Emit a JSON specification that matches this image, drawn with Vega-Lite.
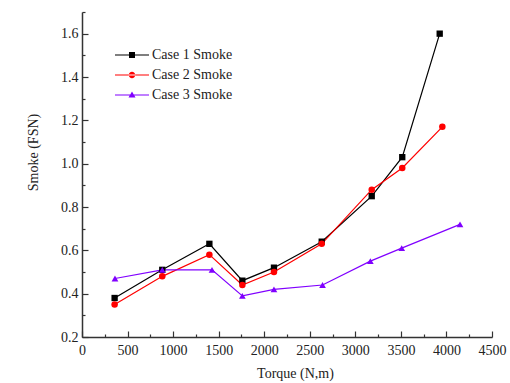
{
  "$schema": "https://vega.github.io/schema/vega-lite/v6.json",
  "width": 410,
  "height": 325,
  "autosize": "none",
  "padding": {"left": 82, "top": 12, "right": 18, "bottom": 46},
  "background": "white",
  "config": {
    "view": {"stroke": null},
    "font": "Liberation Serif",
    "axis": {
      "domainColor": "#333333",
      "domainWidth": 1.5,
      "tickColor": "#333333",
      "tickWidth": 1.2,
      "grid": false,
      "labelFont": "Liberation Serif",
      "labelFontSize": 14,
      "labelColor": "#222222",
      "titleFont": "Liberation Serif",
      "titleFontSize": 14,
      "titleFontWeight": "normal",
      "titleColor": "#222222"
    },
    "legend": {"labelFont": "Liberation Serif"}
  },
  "data": {
    "values": [
      {"series": "Case 1 Smoke", "torque": 358, "smoke": 0.38},
      {"series": "Case 1 Smoke", "torque": 881, "smoke": 0.51},
      {"series": "Case 1 Smoke", "torque": 1398, "smoke": 0.63},
      {"series": "Case 1 Smoke", "torque": 1760, "smoke": 0.46},
      {"series": "Case 1 Smoke", "torque": 2107, "smoke": 0.52},
      {"series": "Case 1 Smoke", "torque": 2631, "smoke": 0.64},
      {"series": "Case 1 Smoke", "torque": 3180, "smoke": 0.85},
      {"series": "Case 1 Smoke", "torque": 3515, "smoke": 1.03},
      {"series": "Case 1 Smoke", "torque": 3926, "smoke": 1.60},
      {"series": "Case 2 Smoke", "torque": 358, "smoke": 0.35},
      {"series": "Case 2 Smoke", "torque": 881, "smoke": 0.48},
      {"series": "Case 2 Smoke", "torque": 1398, "smoke": 0.58},
      {"series": "Case 2 Smoke", "torque": 1760, "smoke": 0.44},
      {"series": "Case 2 Smoke", "torque": 2107, "smoke": 0.50},
      {"series": "Case 2 Smoke", "torque": 2631, "smoke": 0.63},
      {"series": "Case 2 Smoke", "torque": 3180, "smoke": 0.88},
      {"series": "Case 2 Smoke", "torque": 3515, "smoke": 0.98},
      {"series": "Case 2 Smoke", "torque": 3955, "smoke": 1.17},
      {"series": "Case 3 Smoke", "torque": 362, "smoke": 0.47},
      {"series": "Case 3 Smoke", "torque": 881, "smoke": 0.51},
      {"series": "Case 3 Smoke", "torque": 1427, "smoke": 0.51},
      {"series": "Case 3 Smoke", "torque": 1760, "smoke": 0.39},
      {"series": "Case 3 Smoke", "torque": 2107, "smoke": 0.42},
      {"series": "Case 3 Smoke", "torque": 2640, "smoke": 0.44},
      {"series": "Case 3 Smoke", "torque": 3165, "smoke": 0.55},
      {"series": "Case 3 Smoke", "torque": 3509, "smoke": 0.61},
      {"series": "Case 3 Smoke", "torque": 4149, "smoke": 0.72}
    ]
  },
  "encoding": {
    "x": {
      "field": "torque", "type": "quantitative",
      "scale": {"domain": [0, 4500], "nice": false, "zero": false},
      "axis": {
        "title": "Torque (N,m)",
        "values": [0, 250, 500, 750, 1000, 1250, 1500, 1750, 2000, 2250, 2500, 2750, 3000, 3250, 3500, 3750, 4000, 4250, 4500],
        "format": "d",
        "labelFont": "Liberation Serif",
        "labelExpr": "datum.value % 500 === 0 ? datum.label : ''",
        "tickSize": {"condition": {"test": "datum.value % 500 === 0", "value": -6}, "value": -3},
        "labelPadding": 12,
        "titlePadding": 9,
        "titleX": 213,
        "labelFlush": false
      }
    },
    "y": {
      "field": "smoke", "type": "quantitative",
      "scale": {"domain": [0.2, 1.7], "nice": false, "zero": false},
      "axis": {
        "title": "Smoke (FSN)",
        "values": [0.2, 0.3, 0.4, 0.5, 0.6, 0.7, 0.8, 0.9, 1.0, 1.1, 1.2, 1.3, 1.4, 1.5, 1.6, 1.7],
        "format": ".1f",
        "labelFont": "Liberation Serif",
        "labelExpr": "round(datum.value * 10) % 2 === 0 ? datum.label : ''",
        "tickSize": {"condition": {"test": "round(datum.value * 10) % 2 === 0", "value": -6}, "value": -3},
        "labelPadding": 10,
        "titlePadding": 20,
        "titleY": 140,
        "labelFlush": false
      }
    }
  },
  "layer": [
    {
      "mark": {"type": "line", "strokeWidth": 1.2},
      "encoding": {
        "color": {
          "field": "series", "type": "nominal",
          "scale": {"domain": ["Case 1 Smoke", "Case 2 Smoke", "Case 3 Smoke"], "range": ["#000000", "#ff0000", "#8000ff"]},
          "legend": null
        }
      }
    },
    {
      "mark": {"type": "point", "filled": true, "opacity": 1},
      "encoding": {
        "color": {"field": "series", "type": "nominal", "legend": null},
        "shape": {
          "field": "series", "type": "nominal",
          "scale": {"domain": ["Case 1 Smoke", "Case 2 Smoke", "Case 3 Smoke"], "range": ["square", "circle", "triangle-up"]},
          "legend": null
        },
        "size": {
          "field": "series", "type": "nominal",
          "scale": {"domain": ["Case 1 Smoke", "Case 2 Smoke", "Case 3 Smoke"], "range": [40, 45, 50]},
          "legend": null
        }
      }
    },
    {
      "transform": [{"filter": "datum.smoke < 0"}],
      "mark": {"type": "point", "filled": true, "opacity": 1, "size": 100},
      "encoding": {
        "fill": {
          "field": "series", "type": "nominal",
          "scale": {"domain": ["Case 1 Smoke", "Case 2 Smoke", "Case 3 Smoke"], "range": ["#000000", "#ff0000", "#8000ff"]},
          "legend": {
            "title": null,
            "orient": "none",
            "legendX": 43,
            "legendY": 36,
            "padding": 0,
            "rowPadding": 6,
            "symbolSize": 100,
            "symbolOpacity": 1,
            "symbolStrokeWidth": 0,
            "labelOffset": 13,
            "labelFont": "Liberation Serif",
            "labelFontSize": 14,
            "labelColor": "#222222",
            "labelLimit": 200
          }
        },
        "shape": {
          "field": "series", "type": "nominal",
          "scale": {"domain": ["Case 1 Smoke", "Case 2 Smoke", "Case 3 Smoke"], "range": [
            "M-3.4,-0.1H3.4V0.1H-3.4Z M-0.6,-0.6H0.6V0.6H-0.6Z",
            "M-3.4,-0.1H3.4V0.1H-3.4Z M-0.65,0A0.65,0.65 0 1,0 0.65,0A0.65,0.65 0 1,0 -0.65,0Z",
            "M-3.4,-0.1H3.4V0.1H-3.4Z M0,-0.7L0.7,0.5H-0.7Z"
          ]},
          "legend": {
            "title": null,
            "orient": "none",
            "legendX": 43,
            "legendY": 36,
            "padding": 0,
            "rowPadding": 6,
            "symbolSize": 100,
            "symbolOpacity": 1,
            "symbolStrokeWidth": 0,
            "labelOffset": 13,
            "labelFont": "Liberation Serif",
            "labelFontSize": 14,
            "labelColor": "#222222",
            "labelLimit": 200
          }
        }
      }
    }
  ],
  "resolve": {"scale": {"shape": "independent", "fill": "independent"}}
}
